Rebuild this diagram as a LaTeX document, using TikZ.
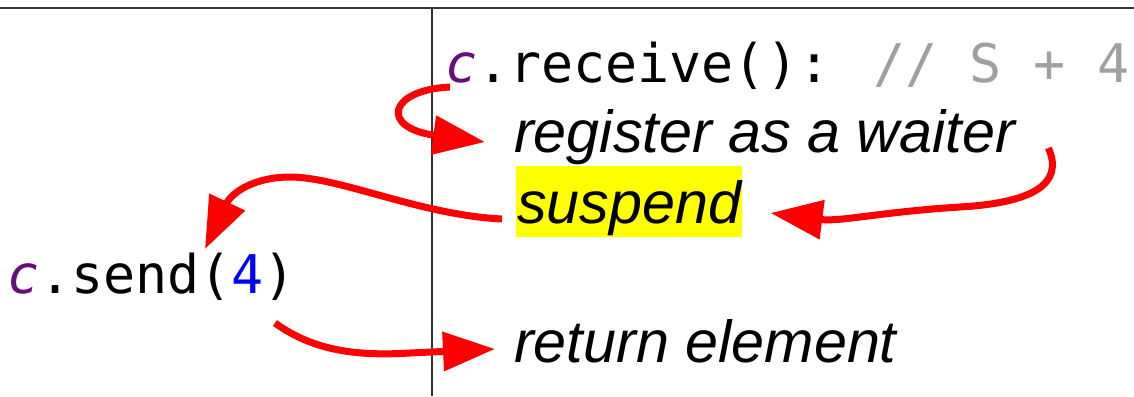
\documentclass[tikz,border=0pt]{standalone}
\usepackage{fontspec}
\newfontfamily\codefont{DejaVu Sans Mono}
\newfontfamily\lblfont{Liberation Sans}
\usetikzlibrary{arrows.meta}
\definecolor{varpurple}{HTML}{660E7A}
\definecolor{numblue}{HTML}{0000FF}
\definecolor{cmtgray}{HTML}{A0A0A0}
\definecolor{arrred}{HTML}{FF0000}
\definecolor{rulegray}{HTML}{333333}
\definecolor{hiyellow}{HTML}{FFFF00}
\begin{document}
\begin{tikzpicture}[x=1pt,y=-1pt,
  code/.style={anchor=base west,inner sep=0pt,font=\codefont\fontsize{53.3}{60}\selectfont},
  lbl/.style={anchor=base west,inner sep=0pt,font=\lblfont\itshape\fontsize{59.3}{66}\selectfont},
  flow/.style={draw=arrred,line width=7pt,-{Triangle[length=52pt,width=38pt]}},
  rulestyle/.style={draw=rulegray,line width=1.5pt}]
\useasboundingbox (0,0) rectangle (1134,396);
\coordinate (tl) at (0,8);
\coordinate (tr) at (1134,8);
\coordinate (vt) at (432,8);
\coordinate (vb) at (432,396);
\draw[rulestyle] (tl) -- (tr);
\draw[rulestyle] (vt) -- (vb);

\node[code] (recv) at (445,82) {{\color{varpurple}\itshape c}.receive(): {\color{cmtgray}// S + 4}};
\node[lbl] (reg) at (514,152) {register as a waiter};
\node[lbl,fill=hiyellow,text height=57pt,text depth=14pt,inner xsep=1pt] (susp) at (516,223) {suspend};
\node[code] (send) at (7,293) {{\color{varpurple}\itshape c}.send({\color{numblue}4})};
\node[lbl] (ret) at (514,362) {return element};

\draw[flow] ([shift={(5,5)}]recv.base west) .. controls (388,90) and (380,128) .. ([shift={(-29,-10)}]reg.base west);
\draw[flow] ([shift={(33,-4)}]reg.base east) .. controls (1065,185) and (1030,203) .. (960,207) .. controls (880,212) and (840,222) .. ([shift={(28,-10)}]susp.base east);
\draw[flow] ([shift={(-14,-4)}]susp.base west) .. controls (420,215) and (340,177) .. (290,177) .. controls (255,177) and (232,192) .. ([shift={(198,-44)}]send.base west);
\draw[flow] ([shift={(268,30)}]send.base west) .. controls (315,352) and (360,356) .. (410,353) -- ([shift={(-19,-13)}]ret.base west);
\end{tikzpicture}
\end{document}
